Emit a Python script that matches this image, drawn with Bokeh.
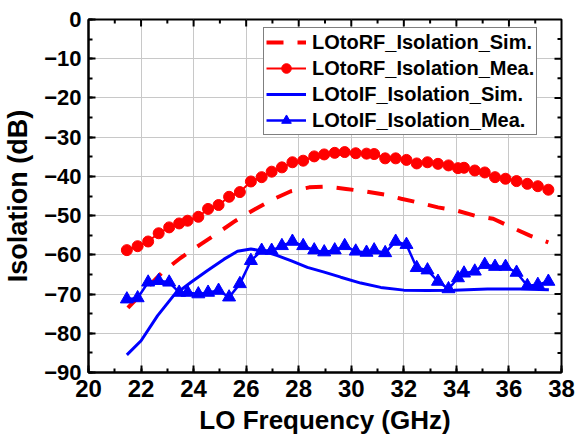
import numpy as np
from bokeh.plotting import figure
from bokeh.models import SingleIntervalTicker, Range1d, Legend
from bokeh.embed import file_html
from bokeh.resources import INLINE

# ---- data ----
meas_freq = [21.46, 21.87, 22.27, 22.67, 23.07, 23.45, 23.77, 24.18, 24.55, 24.95,
             25.35, 25.76, 26.18, 26.59, 26.97, 27.36, 27.76, 28.17, 28.59, 28.97,
             29.37, 29.75, 30.17, 30.58, 30.87, 31.29, 31.69, 32.10, 32.49, 32.90,
             33.30, 33.70, 34.06, 34.29, 34.70, 35.08, 35.47, 35.87, 36.29, 36.70,
             37.10, 37.50]
rf_mea = [-58.8, -57.8, -56.6, -54.5, -53.0, -52.0, -51.3, -50.3, -48.3, -47.3,
          -45.2, -44.0, -41.3, -40.2, -38.8, -37.7, -36.4, -36.0, -34.9, -34.4,
          -34.0, -33.8, -34.1, -34.2, -34.3, -35.4, -35.4, -35.8, -36.7, -36.4,
          -36.8, -37.2, -37.9, -37.8, -38.5, -39.0, -40.2, -40.6, -41.2, -41.9,
          -42.5, -43.4]
if_mea = [-71.3, -71.0, -67.0, -66.6, -67.0, -69.6, -69.6, -70.0, -69.6, -69.1,
          -70.8, -67.4, -61.5, -58.9, -58.9, -57.7, -56.6, -57.7, -58.8, -59.3,
          -58.8, -57.7, -59.1, -59.4, -58.8, -59.5, -56.6, -57.4, -63.3, -63.9,
          -66.8, -68.7, -65.9, -64.7, -64.2, -62.5, -63.0, -63.0, -64.5, -67.9,
          -67.6, -66.8]

rf_sim_freq = [21.5, 22.1, 22.8, 23.5, 24.25, 24.9, 25.6, 26.3, 27.0, 27.7, 28.4,
               29.1, 29.8, 30.5, 31.25, 31.9, 32.5, 33.3, 34.0, 34.7, 35.4, 36.1,
               36.8, 37.5]
rf_sim = [-73.5, -69.3, -64.5, -60.8, -57.4, -54.5, -51.3, -48.5, -45.9, -43.8, -42.8,
          -42.6, -43.2, -43.8, -44.6, -45.7, -46.6, -47.9, -48.7, -50.0, -50.8, -53.0,
          -55.1, -56.8]

if_sim_freq = [21.46, 22.0, 22.63, 23.26, 23.9, 24.53, 25.16, 25.67, 26.18, 26.68,
               27.19, 27.7, 28.33, 28.97, 29.6, 30.36, 31.12, 32.0, 32.9, 33.91,
               35.18, 36.44, 37.52]
if_sim = [-85.5, -81.9, -75.5, -70.2, -67.0, -64.0, -61.1, -59.1, -58.5, -59.1,
          -60.2, -61.5, -63.2, -64.4, -65.7, -67.2, -68.3, -69.0, -69.1, -69.0,
          -68.7, -68.7, -68.9]

labels = ["LOtoRF_Isolation_Sim.", "LOtoRF_Isolation_Mea.",
          "LOtoIF_Isolation_Sim.", "LOtoIF_Isolation_Mea."]
x_title = "LO Frequency (GHz)"
y_title = "Isolation (dB)"

X_MIN, X_MAX, X_STEP = 20, 38, 2
Y_MIN, Y_MAX, Y_STEP = -90, 0, 10

FONT = "Liberation Sans"

p = figure(width=576, height=441, output_backend="svg", toolbar_location=None,
           x_range=Range1d(X_MIN, X_MAX), y_range=Range1d(Y_MIN, Y_MAX),
           min_border_left=87, min_border_right=15, min_border_top=19,
           min_border_bottom=69)
p.background_fill_color = "white"
p.border_fill_color = "white"
p.outline_line_color = "black"
p.outline_line_width = 2

xt = SingleIntervalTicker(interval=X_STEP, num_minor_ticks=2)
yt = SingleIntervalTicker(interval=Y_STEP, num_minor_ticks=2)
p.xaxis.ticker = xt
p.yaxis.ticker = yt

for ax in (p.xaxis[0], p.yaxis[0]):
    ax.axis_line_width = 2
    ax.axis_line_color = "black"
    ax.major_tick_in = 7
    ax.major_tick_out = 0
    ax.minor_tick_in = 4
    ax.minor_tick_out = 0
    ax.major_tick_line_width = 2
    ax.minor_tick_line_width = 2
    ax.major_tick_line_color = "black"
    ax.minor_tick_line_color = "black"
    ax.major_label_text_font = FONT
    ax.major_label_text_font_style = "bold"
    ax.major_label_text_color = "black"
    ax.axis_label_text_font = FONT
    ax.axis_label_text_font_style = "bold"
    ax.axis_label_text_color = "black"

p.xaxis.major_label_text_font_size = "24px"
p.yaxis.major_label_text_font_size = "22px"
p.xaxis.major_label_standoff = 7
p.yaxis.major_label_standoff = 7
p.xaxis.axis_label = x_title
p.yaxis.axis_label = y_title
p.xaxis.axis_label_text_font_size = "26px"
p.yaxis.axis_label_text_font_size = "27px"
p.xaxis.axis_label_standoff = 5
p.yaxis.axis_label_standoff = 8

p.xgrid.ticker = xt
p.ygrid.ticker = yt
p.xgrid.grid_line_color = "#c8c8c8"
p.ygrid.grid_line_color = "#c8c8c8"
p.xgrid.grid_line_width = 1
p.ygrid.grid_line_width = 1

# mirror ticks on top and right edges (inward), drawn as clipped dash markers
x_major = np.arange(X_MIN + X_STEP, X_MAX, X_STEP)
x_minor = np.arange(X_MIN + X_STEP / 2, X_MAX, X_STEP)
y_major = np.arange(Y_MIN + Y_STEP, Y_MAX, Y_STEP)
y_minor = np.arange(Y_MIN + Y_STEP / 2, Y_MAX, Y_STEP)
p.scatter(x_major, [Y_MAX] * len(x_major), marker="dash", angle=np.pi / 2,
          size=14, line_color="black", line_width=2)
p.scatter(x_minor, [Y_MAX] * len(x_minor), marker="dash", angle=np.pi / 2,
          size=8, line_color="black", line_width=2)
p.scatter([X_MAX] * len(y_major), y_major, marker="dash",
          size=14, line_color="black", line_width=2)
p.scatter([X_MAX] * len(y_minor), y_minor, marker="dash",
          size=8, line_color="black", line_width=2)

RED = "#ff0000"
BLUE = "#0000ff"

r1 = p.line(rf_sim_freq, rf_sim, line_color=RED, line_width=4, line_dash="17 14")
r2a = p.line(meas_freq, rf_mea, line_color=RED, line_width=2)
r2b = p.scatter(meas_freq, rf_mea, marker="circle", size=11, fill_color=RED,
                line_color=RED)
r3 = p.line(if_sim_freq, if_sim, line_color=BLUE, line_width=3)
r4a = p.line(meas_freq, if_mea, line_color=BLUE, line_width=2.5)
r4b = p.scatter(meas_freq, if_mea, marker="triangle", size=13, fill_color=BLUE,
                line_color=BLUE)

legend = Legend(items=[(labels[0], [r1]), (labels[1], [r2a, r2b]),
                       (labels[2], [r3]), (labels[3], [r4a, r4b])],
                location=(175, 237))
legend.label_text_font = FONT
legend.label_text_font_style = "bold"
legend.label_text_font_size = "20px"
legend.label_text_color = "black"
legend.border_line_color = "black"
legend.border_line_width = 1.5
legend.background_fill_color = "white"
legend.background_fill_alpha = 1
legend.glyph_width = 40
legend.glyph_height = 24
legend.label_height = 24
legend.label_standoff = 6
legend.spacing = 2
legend.padding = 2
legend.margin = 0
p.add_layout(legend, "center")

open("out.html", "w").write(file_html(p, INLINE))
